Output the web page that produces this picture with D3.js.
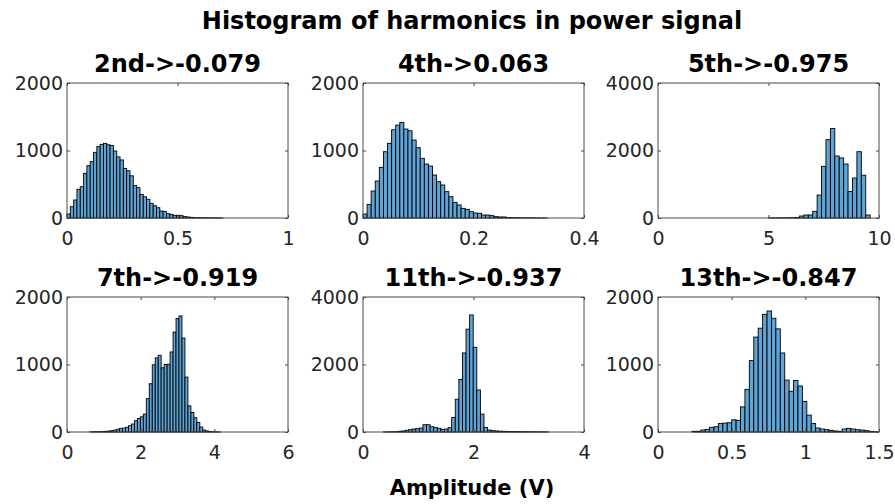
<!DOCTYPE html>
<html>
<head>
<meta charset="utf-8">
<script src="https://cdn.jsdelivr.net/npm/d3@7"></script>
<style>
  html, body { margin: 0; padding: 0; background: #fff; }
  svg { display: block; font-family: "DejaVu Sans", Verdana, sans-serif; }
</style>
</head>
<body>
<svg id="chart" width="895" height="504"></svg>
<script>
// Harmonic order labels and their correlation values shown in each panel title
const panelTitles = ["2nd->-0.079", "4th->0.063", "5th->-0.975", "7th->-0.919", "11th->-0.937", "13th->-0.847"];

// Histogram counts per bin (amplitude in volts), one array per harmonic
const counts2nd = [60,168,267,425,464,662,775,835,973,1057,1091,1106,1085,1075,992,905,860,735,700,625,480,450,350,315,277,217,182,152,103,95,64,54,40,40,35,20,15,10,8,6,5,4,3,3,2,2,1];
const counts4th = [59,202,400,548,750,982,1106,1307,1376,1416,1318,1293,1155,1042,884,800,770,637,538,489,390,316,232,193,143,128,94,74,69,44,44,35,20,15,15,8,6,5,4,3,3,2,2,1,1];
const counts5th = [3,4,5,6,8,10,14,59,89,89,197,680,1530,2320,2650,1838,1780,1600,785,1185,1965,1268,89];
const counts7th = [3,4,5,6,8,10,14,20,28,40,54,57,69,93,118,167,200,225,265,495,715,995,1098,1137,951,1000,1004,1186,1480,1681,1720,1392,813,387,289,211,142,73,29,15,8,5,3,2];
const counts11th = [3,5,8,10,20,29,49,69,88,98,118,216,216,157,137,108,78,88,127,431,970,1558,2342,3048,3469,2509,1245,529,137,59,40,30,25,20,18,15,14,12,12,10,9,8,7,6,5,4];
const counts13th = [10,10,29,39,69,78,127,132,137,181,172,372,632,1058,1406,1538,1744,1793,1685,1528,1171,769,603,764,681,451,250,127,59,44,34,25,15,10,44,54,44,34,29,20,10,5];

// First bin edge and bin width for each harmonic
const binStarts = [0, 0, 5.0, 0.62, 0.37, 0.23];
const binWidths = [0.015, 0.0074, 0.2, 0.0807, 0.065, 0.03];

// Axis limits and tick values
const xDomains = [[0, 1], [0, 0.4], [0, 10], [0, 6], [0, 4], [0, 1.5]];
const xTickValues = [[0, 0.5, 1], [0, 0.2, 0.4], [0, 5, 10], [0, 2, 4, 6], [0, 2, 4], [0, 0.5, 1, 1.5]];
const yDomains = [[0, 2000], [0, 2000], [0, 4000], [0, 2000], [0, 4000], [0, 2000]];
const yTickValues = [[0, 1000, 2000], [0, 1000, 2000], [0, 2000, 4000], [0, 1000, 2000], [0, 2000, 4000], [0, 1000, 2000]];

const mainTitle = "Histogram of harmonics in power signal";
const xAxisTitle = "Amplitude (V)";

const allCounts = [counts2nd, counts4th, counts5th, counts7th, counts11th, counts13th];

// Panel grid geometry
const colLefts = [67, 363, 658];
const rowTops = [83, 297];
const panelW = 221;
const panelH = 135;
const tickLen = 3;

const textColor = "#262626";
const boxColor = "#4a4a4a";
const barFill = "rgb(94,164,214)";

const svg = d3.select("#chart");

svg.append("text")
  .attr("x", 472).attr("y", 29)
  .attr("text-anchor", "middle")
  .attr("font-weight", "bold")
  .attr("font-size", 24)
  .attr("fill", "#000")
  .text(mainTitle);

allCounts.forEach((counts, p) => {
  const col = p % 3, row = Math.floor(p / 3);
  const left = colLefts[col], top = rowTops[row];
  const g = svg.append("g").attr("transform", `translate(${left},${top})`);

  const x = d3.scaleLinear().domain(xDomains[p]).range([0, panelW]);
  const y = d3.scaleLinear().domain(yDomains[p]).range([panelH, 0]);

  const bins = counts.map((c, i) => ({
    x0: binStarts[p] + i * binWidths[p],
    x1: binStarts[p] + (i + 1) * binWidths[p],
    count: c
  }));

  g.append("g").selectAll("rect")
    .data(bins)
    .join("rect")
    .attr("x", d => x(d.x0))
    .attr("y", d => y(d.count))
    .attr("width", d => x(d.x1) - x(d.x0))
    .attr("height", d => y(0) - y(d.count))
    .attr("fill", barFill)
    .attr("stroke", "#000")
    .attr("stroke-width", 0.9);

  const styleAxis = sel => {
    sel.select(".domain").remove();
    sel.selectAll(".tick line").attr("stroke", boxColor);
    sel.selectAll(".tick text")
      .attr("fill", textColor)
      .attr("font-size", 19)
      .attr("font-family", "DejaVu Sans, sans-serif");
  };

  g.append("g")
    .attr("transform", `translate(0,${panelH})`)
    .call(d3.axisBottom(x).tickValues(xTickValues[p]).tickSize(-tickLen).tickPadding(14).tickFormat(d => String(d)))
    .call(styleAxis);
  g.append("g")
    .call(d3.axisTop(x).tickValues(xTickValues[p]).tickSize(-tickLen).tickFormat(""))
    .call(styleAxis);
  g.append("g")
    .call(d3.axisLeft(y).tickValues(yTickValues[p]).tickSize(-tickLen).tickPadding(4).tickFormat(d => String(d)))
    .call(styleAxis);
  g.append("g")
    .attr("transform", `translate(${panelW},0)`)
    .call(d3.axisRight(y).tickValues(yTickValues[p]).tickSize(-tickLen).tickFormat(""))
    .call(styleAxis);

  g.append("rect")
    .attr("width", panelW).attr("height", panelH)
    .attr("fill", "none")
    .attr("stroke", boxColor)
    .attr("stroke-width", 1);

  g.append("text")
    .attr("x", panelW / 2).attr("y", -11)
    .attr("text-anchor", "middle")
    .attr("font-weight", "bold")
    .attr("font-size", 24)
    .attr("fill", "#000")
    .text(panelTitles[p]);
});

svg.append("text")
  .attr("x", 472).attr("y", 495)
  .attr("text-anchor", "middle")
  .attr("font-weight", "bold")
  .attr("font-size", 21)
  .attr("fill", "#000")
  .text(xAxisTitle);
</script>
</body>
</html>
